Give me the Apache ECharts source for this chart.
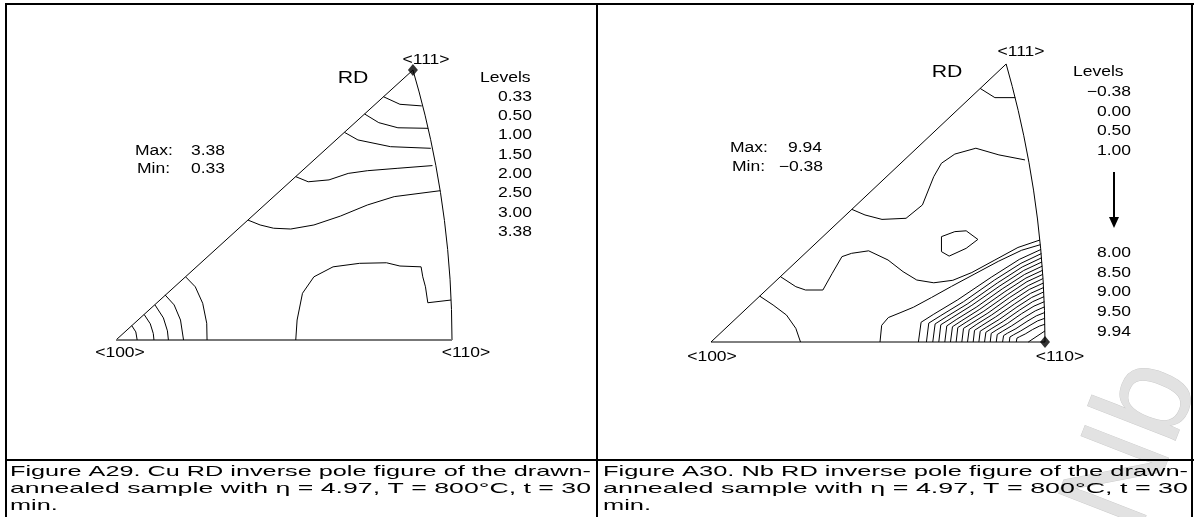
<!DOCTYPE html>
<html><head><meta charset="utf-8">
<script src="https://cdn.jsdelivr.net/npm/echarts@6/dist/echarts.min.js"></script>
<style>html,body{margin:0;padding:0;background:#fff}#c{width:1194px;height:517px}</style>
</head><body><div id="c"></div><script>
// ---------- data ----------
const vertexLabels = ['<100>', '<110>', '<111>'];
const cuLevels = ['0.33', '0.50', '1.00', '1.50', '2.00', '2.50', '3.00', '3.38'];
const cuMaxMin = ['3.38', '0.33'];
const nbLevelsTop = ['\u22120.38', '0.00', '0.50', '1.00'];
const nbLevelsBottom = ['8.00', '8.50', '9.00', '9.50', '9.94'];
const nbMaxMin = ['9.94', '\u22120.38'];
// standard triangle corners in normalised stereographic units (<100>=0,0  <110>=1,0  <111>=0.8837,1)
const corner100 = [0, 0];
const corner110 = [1, 0];
const corner111 = [0.8837, 1];
// <110>-<111> great-circle boundary
const arcPoints = [[1, 0], [0.9985, 0.113], [0.9942, 0.225], [0.9871, 0.3351], [0.9775, 0.4425], [0.9657, 0.5464],
  [0.9519, 0.6463], [0.9365, 0.7418], [0.9198, 0.8327], [0.9021, 0.9187], [0.8837, 1]];

const cuContours = [
  [[0.796, 0.901], [0.845, 0.873], [0.910, 0.867]],
  [[0.740, 0.837], [0.782, 0.805], [0.839, 0.786], [0.929, 0.784]],
  [[0.680, 0.769], [0.720, 0.741], [0.817, 0.716], [0.937, 0.710]],
  [[0.535, 0.605], [0.572, 0.586], [0.634, 0.593], [0.691, 0.617], [0.748, 0.627], [0.839, 0.636], [0.942, 0.646]],
  [[0.393, 0.444], [0.429, 0.426], [0.469, 0.414], [0.520, 0.411], [0.589, 0.426], [0.668, 0.459], [0.748, 0.500], [0.828, 0.531], [0.965, 0.553]],
  [[0.535, 0], [0.539, 0.074], [0.555, 0.173], [0.589, 0.234], [0.646, 0.271], [0.725, 0.284], [0.805, 0.286], [0.845, 0.274], [0.908, 0.271], [0.913, 0.234], [0.921, 0.197], [0.928, 0.138], [0.997, 0.148]],
  [[0.208, 0.233], [0.236, 0.197], [0.258, 0.136], [0.270, 0.062], [0.271, 0]],
  [[0.146, 0.167], [0.173, 0.130], [0.192, 0.074], [0.201, 0]],
  [[0.116, 0.130], [0.141, 0.082], [0.153, 0.034], [0.156, 0]],
  [[0.084, 0.094], [0.102, 0.060], [0.111, 0.024], [0.113, 0]],
  [[0.047, 0.053], [0.059, 0.030], [0.063, 0]]
];

const nbContours = [
  [[0.806, 0.912], [0.850, 0.879], [0.911, 0.879]],
  [[0.422, 0.477], [0.461, 0.457], [0.512, 0.441], [0.584, 0.445], [0.633, 0.493], [0.667, 0.595], [0.690, 0.643], [0.730, 0.676], [0.793, 0.697], [0.862, 0.673], [0.940, 0.655]],
  [[0.690, 0.379], [0.730, 0.397], [0.764, 0.400], [0.799, 0.369], [0.764, 0.337], [0.713, 0.309], [0.690, 0.325], [0.690, 0.379]],
  [[0.208, 0.235], [0.254, 0.199], [0.283, 0.187], [0.335, 0.187], [0.363, 0.247], [0.392, 0.307], [0.421, 0.319], [0.472, 0.328], [0.530, 0.295], [0.575, 0.253], [0.616, 0.223], [0.667, 0.213], [0.724, 0.222], [0.781, 0.250], [0.850, 0.295], [0.919, 0.340], [0.985, 0.367]],
  [[0.146, 0.165], [0.186, 0.133], [0.226, 0.097], [0.254, 0.049], [0.268, 0]],
  [[0.506, 0], [0.511, 0.060], [0.531, 0.088], [0.566, 0.105], [0.606, 0.125], [0.660, 0.160], [0.720, 0.200], [0.790, 0.245], [0.860, 0.290], [0.930, 0.330], [0.986, 0.350]],
  [[0.621, 0], [0.629, 0.071], [0.667, 0.100], [0.739, 0.152], [0.839, 0.233], [0.923, 0.297], [0.988, 0.333]],
  [[0.645, 0], [0.652, 0.068], [0.688, 0.095], [0.756, 0.145], [0.849, 0.223], [0.928, 0.283], [0.989, 0.318]],
  [[0.664, 0], [0.671, 0.065], [0.705, 0.091], [0.769, 0.138], [0.857, 0.212], [0.932, 0.270], [0.990, 0.303]],
  [[0.682, 0], [0.688, 0.062], [0.720, 0.086], [0.781, 0.132], [0.865, 0.202], [0.936, 0.257], [0.991, 0.288]],
  [[0.700, 0], [0.706, 0.058], [0.736, 0.082], [0.794, 0.125], [0.872, 0.191], [0.939, 0.243], [0.992, 0.273]],
  [[0.717, 0], [0.723, 0.055], [0.751, 0.077], [0.805, 0.118], [0.880, 0.181], [0.943, 0.230], [0.993, 0.258]],
  [[0.734, 0], [0.739, 0.052], [0.766, 0.073], [0.817, 0.111], [0.887, 0.170], [0.946, 0.217], [0.993, 0.243]],
  [[0.751, 0], [0.756, 0.049], [0.781, 0.068], [0.829, 0.104], [0.894, 0.160], [0.950, 0.203], [0.994, 0.228]],
  [[0.768, 0], [0.773, 0.045], [0.796, 0.064], [0.840, 0.097], [0.901, 0.148], [0.953, 0.189], [0.995, 0.212]],
  [[0.785, 0], [0.789, 0.042], [0.811, 0.059], [0.852, 0.090], [0.909, 0.137], [0.957, 0.175], [0.996, 0.196]],
  [[0.802, 0], [0.806, 0.039], [0.826, 0.054], [0.864, 0.082], [0.916, 0.126], [0.960, 0.160], [0.996, 0.180]],
  [[0.819, 0], [0.823, 0.035], [0.841, 0.049], [0.875, 0.074], [0.923, 0.114], [0.963, 0.145], [0.997, 0.163]],
  [[0.836, 0], [0.839, 0.031], [0.856, 0.044], [0.887, 0.066], [0.930, 0.102], [0.967, 0.129], [0.998, 0.145]],
  [[0.854, 0], [0.857, 0.027], [0.872, 0.038], [0.900, 0.058], [0.938, 0.088], [0.971, 0.112], [0.998, 0.126]],
  [[0.873, 0], [0.876, 0.023], [0.888, 0.032], [0.913, 0.048], [0.946, 0.074], [0.974, 0.094], [0.999, 0.106]],
  [[0.893, 0], [0.895, 0.018], [0.906, 0.026], [0.926, 0.039], [0.955, 0.060], [0.978, 0.076], [0.999, 0.085]],
  [[0.914, 0], [0.916, 0.014], [0.924, 0.019], [0.941, 0.029], [0.963, 0.045], [0.983, 0.057], [1.0, 0.064]],
  [[0.950, 0], [1.0, 0.040]]
];

const captionCu = ['Figure A29. Cu RD inverse pole figure of the drawn-', 'annealed sample with \u03b7 = 4.97, T = 800\u00b0C, t = 30', 'min.'];
const captionNb = ['Figure A30. Nb RD inverse pole figure of the drawn-', 'annealed sample with \u03b7 = 4.97, T = 800\u00b0C, t = 30', 'min.'];

// ---------- chart ----------
const FIG_FONT = '"Liberation Sans", Arial, sans-serif';
const CAP_FONT_SIZE = 15;
const FIG_SIZE = 14;
const FIG_SX = 1.25;
const chart = echarts.init(document.getElementById('c'), null, { renderer: 'canvas' });

function lineS(data, gi, color, width) {
  return { type: 'line', xAxisIndex: gi, yAxisIndex: gi, data: data, symbol: 'none', showSymbol: false,
    lineStyle: { color: color, width: width }, silent: true, animation: false, clip: false, z: 3 };
}
function txt(text, x, y, size, align, extra) {
  const st = { text: text, fill: '#000', font: size + 'px ' + FIG_FONT, align: align, verticalAlign: 'middle',
    textAlign: align, textVerticalAlign: 'middle' };
  return Object.assign({ type: 'text', x: x, y: y, silent: true, z: 10, style: st }, extra || {});
}
function ftxt(text, x, y, align, size) {
  return txt(text, x, y, size || FIG_SIZE, align, { scaleX: FIG_SX });
}
function rect(x, y, w, h) {
  return { type: 'rect', silent: true, z: 10, shape: { x: x, y: y, width: w, height: h }, style: { fill: '#000' } };
}
const ctx = document.createElement('canvas').getContext('2d');
ctx.font = CAP_FONT_SIZE + 'px ' + FIG_FONT;
function captionLines(lines, x0, x1, yTop, gap) {
  const out = [];
  const sFit = (x1 - x0) / ctx.measureText(lines[0]).width;
  lines.forEach(function (t, i) {
    const s = i < 2 ? (x1 - x0) / ctx.measureText(t).width : sFit;
    out.push(txt(t, x0, yTop + i * gap, CAP_FONT_SIZE, 'left', { scaleX: s, z: 12 }));
  });
  return out;
}

const boundary = [corner100, corner110].concat(arcPoints.slice(1)).concat([corner100]);
const series = [];
series.push(lineS(boundary, 0, '#000', 1));
series.push(lineS([corner100, corner110], 0, '#777', 2));
cuContours.forEach(function (c) { series.push(lineS(c, 0, '#000', 1)); });
series.push(lineS(boundary, 1, '#000', 1));
nbContours.forEach(function (c) { series.push(lineS(c, 1, '#000', 1)); });
series.push({ type: 'scatter', xAxisIndex: 0, yAxisIndex: 0, data: [corner111], symbol: 'diamond', symbolSize: [10, 12],
  itemStyle: { color: '#000' }, silent: true, animation: false, z: 5 });
series.push({ type: 'scatter', xAxisIndex: 1, yAxisIndex: 1, data: [corner110], symbol: 'diamond', symbolSize: [10, 12],
  itemStyle: { color: '#000' }, silent: true, animation: false, z: 5 });

const g = [];
// table frame
g.push(rect(5, 3, 1189, 2));
g.push(rect(5, 3, 2, 514));
g.push(rect(596, 3, 2, 514));
g.push(rect(1191, 3, 2, 514));
g.push(rect(5, 459, 1189, 2));
// watermark
g.push({ type: 'text', x: 1135, y: 445, rotation: 1.2, silent: true, z: 1,
  style: { text: 'Nb', fill: '#e2e2e2', stroke: '#cccccc', lineWidth: 1, font: '130px ' + FIG_FONT,
    align: 'center', verticalAlign: 'middle', textAlign: 'center', textVerticalAlign: 'middle' } });
// Cu figure texts
g.push(ftxt(vertexLabels[2], 426, 60, 'center'));
g.push(ftxt(vertexLabels[0], 120, 353, 'center'));
g.push(ftxt(vertexLabels[1], 466, 353, 'center'));
g.push(ftxt('RD', 353, 78, 'center', 17));
g.push(ftxt('Levels', 480, 78, 'left'));
cuLevels.forEach(function (t, i) { g.push(ftxt(t, 532, 97 + i * 19.3, 'right')); });
g.push(ftxt('Max:', 135, 151, 'left'));
g.push(ftxt(cuMaxMin[0], 225, 151, 'right'));
g.push(ftxt('Min:', 137, 169, 'left'));
g.push(ftxt(cuMaxMin[1], 225, 169, 'right'));
// Nb figure texts
g.push(ftxt(vertexLabels[2], 1021, 52, 'center'));
g.push(ftxt(vertexLabels[0], 712, 357, 'center'));
g.push(ftxt(vertexLabels[1], 1060, 357, 'center'));
g.push(ftxt('RD', 947, 72, 'center', 17));
g.push(ftxt('Levels', 1073, 72, 'left'));
nbLevelsTop.forEach(function (t, i) { g.push(ftxt(t, 1131, 92 + i * 19.7, 'right')); });
nbLevelsBottom.forEach(function (t, i) { g.push(ftxt(t, 1131, 253 + i * 19.8, 'right')); });
g.push(ftxt('Max:', 730, 148, 'left'));
g.push(ftxt(nbMaxMin[0], 822, 148, 'right'));
g.push(ftxt('Min:', 732, 167, 'left'));
g.push(ftxt(nbMaxMin[1], 823, 167, 'right'));
// arrow
g.push({ type: 'line', silent: true, z: 10, shape: { x1: 1114, y1: 172, x2: 1114, y2: 220 }, style: { stroke: '#000', lineWidth: 2 } });
g.push({ type: 'polygon', silent: true, z: 10, shape: { points: [[1109, 217], [1119, 217], [1114, 228]] }, style: { fill: '#000' } });
// captions
captionLines(captionCu, 10, 591, 472, 17).forEach(function (e) { g.push(e); });
captionLines(captionNb, 603, 1188, 472, 17).forEach(function (e) { g.push(e); });

const ax = function (gi) { return { type: 'value', gridIndex: gi, min: 0, max: 1, show: false }; };
chart.setOption({
  backgroundColor: '#fff',
  animation: false,
  grid: [
    { left: 116, top: 70, width: 336, height: 270 },
    { left: 711, top: 64, width: 334, height: 278 }
  ],
  xAxis: [ax(0), ax(1)],
  yAxis: [ax(0), ax(1)],
  series: series,
  graphic: { elements: g }
});
</script></body></html>
